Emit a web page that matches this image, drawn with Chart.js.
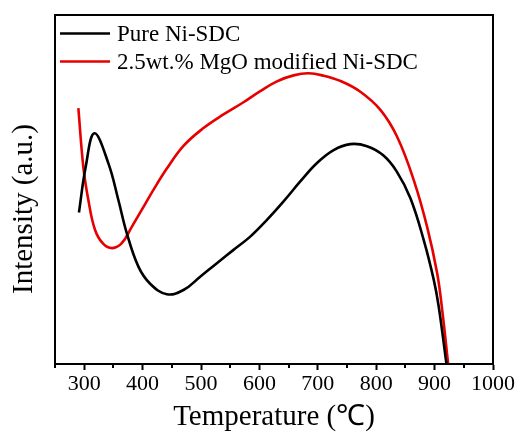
<!DOCTYPE html>
<html>
<head>
<meta charset="utf-8">
<script src="https://cdn.jsdelivr.net/npm/chart.js@4/dist/chart.umd.min.js"></script>
<style>
  html, body { margin: 0; padding: 0; background: #ffffff; }
  #c { display: block; }
</style>
</head>
<body>
<canvas id="c" width="518" height="433"></canvas>
<script>
// ---- data ----
const seriesNames = ['Pure Ni-SDC', '2.5wt.% MgO modified Ni-SDC'];
const seriesColors = ['#000000', '#e60000'];

const pureT = [291, 302.6, 317.4, 341.4, 358.5, 372.9, 392.8, 412.9, 441.5, 470, 498.6, 527.2, 555.7, 584.3, 612.9, 641.4, 670, 698.6, 727.1, 755.7, 784.3, 812, 835, 858.6, 881.4, 898.6, 907.1, 920.3];
const pureI = [43.4, 56.5, 66.1, 57.5, 47.0, 37.5, 27.9, 23.0, 20.0, 21.2, 25.0, 28.9, 32.7, 36.5, 41.3, 46.6, 52.3, 57.6, 61.3, 63.0, 62.4, 59.8, 55.2, 47.5, 35.5, 24.1, 16.4, 0];

const mgoT = [290, 298.5, 307.1, 318.6, 332.8, 348.2, 364.3, 381.5, 404.3, 418.5, 441.5, 470, 504.2, 538.5, 572.8, 601.5, 630.1, 658.5, 684, 710, 740, 772.9, 807.2, 835.8, 864.3, 887.2, 904.4, 913.0, 923.2];
const mgoI = [73.3, 56.5, 47.0, 38.4, 34.4, 33.2, 34.6, 39.3, 45.8, 49.9, 56.0, 62.5, 67.6, 71.5, 75.0, 78.2, 81.0, 82.7, 83.3, 82.6, 81.0, 78.0, 72.8, 65.1, 52.7, 39.3, 26.0, 15.5, 0];

const majorTicks = [300, 400, 500, 600, 700, 800, 900, 1000];
const minorTicks = [250, 350, 450, 550, 650, 750, 850, 950];
const xMin = 250, xMax = 1000;
const yMin = 0, yMax = 100;
const xTitle = 'Temperature (\u2103)';
const yTitle = 'Intensity (a.u.)';

const FONT = 'Liberation Serif, Times New Roman, serif';
Chart.defaults.font.family = FONT;
Chart.defaults.color = '#000000';

function pts(xs, ys) { return xs.map((x, i) => ({ x: x, y: ys[i] })); }

const framePlugin = {
  id: 'frame',
  beforeDraw(chart) {
    const ctx = chart.ctx;
    ctx.save();
    ctx.fillStyle = '#ffffff';
    ctx.fillRect(0, 0, chart.width, chart.height);
    ctx.restore();
  },
  afterDraw(chart) {
    const ctx = chart.ctx;
    const a = chart.chartArea;
    const xs = chart.scales.x;
    ctx.save();
    // box
    ctx.strokeStyle = '#000000';
    ctx.lineWidth = 2;
    ctx.strokeRect(a.left, a.top, a.right - a.left, a.bottom - a.top);
    // minor ticks
    ctx.lineWidth = 2;
    minorTicks.forEach(v => {
      const px = Math.round(xs.getPixelForValue(v));
      ctx.beginPath();
      ctx.moveTo(px, a.bottom);
      ctx.lineTo(px, a.bottom + 4);
      ctx.stroke();
    });
    // legend
    ctx.font = '23px ' + FONT;
    ctx.textBaseline = 'middle';
    ctx.textAlign = 'left';
    const legY = [33.5, 61.5];
    seriesNames.forEach((name, i) => {
      ctx.strokeStyle = seriesColors[i];
      ctx.lineWidth = 2.5;
      ctx.beginPath();
      ctx.moveTo(a.left + 5, legY[i]);
      ctx.lineTo(a.left + 55, legY[i]);
      ctx.stroke();
      ctx.fillStyle = '#000000';
      ctx.fillText(name, a.left + 62, legY[i] + 1);
    });
    // y title
    ctx.font = '29px ' + FONT;
    ctx.translate(24, 209);
    ctx.rotate(-Math.PI / 2);
    ctx.textAlign = 'center';
    ctx.textBaseline = 'middle';
    ctx.fillStyle = '#000000';
    ctx.fillText(yTitle, 0, 0);
    ctx.restore();
  }
};

new Chart(document.getElementById('c'), {
  type: 'line',
  data: {
    datasets: [
      {
        label: seriesNames[0],
        data: pts(pureT, pureI),
        borderColor: seriesColors[0],
        borderWidth: 2.6,
        pointRadius: 0,
        fill: false,
        tension: 0.4
      },
      {
        label: seriesNames[1],
        data: pts(mgoT, mgoI),
        borderColor: seriesColors[1],
        borderWidth: 2.6,
        pointRadius: 0,
        fill: false,
        tension: 0.4
      }
    ]
  },
  options: {
    responsive: false,
    animation: false,
    events: [],
    layout: { padding: { top: 15, right: 25, left: 0, bottom: 0 } },
    plugins: {
      legend: { display: false },
      tooltip: { enabled: false }
    },
    scales: {
      x: {
        type: 'linear',
        min: xMin,
        max: xMax,
        afterBuildTicks: (s) => { s.ticks = majorTicks.map(v => ({ value: v })); },
        afterFit: (s) => { s.height = 69; },
        ticks: {
          font: { size: 22, family: FONT },
          color: '#000000',
          padding: 1,
          maxRotation: 0,
          autoSkip: false,
          callback: (v) => String(v)
        },
        grid: {
          drawOnChartArea: false,
          drawTicks: true,
          tickLength: 6,
          tickWidth: 2,
          tickColor: '#000000'
        },
        border: { display: true, color: '#000000', width: 2 },
        title: {
          display: true,
          text: xTitle,
          font: { size: 29, family: FONT, lineHeight: 1 },
          color: '#000000',
          padding: { top: 0, bottom: 1 }
        }
      },
      y: {
        type: 'linear',
        min: yMin,
        max: yMax,
        afterFit: (s) => { s.width = 55; },
        ticks: { display: false },
        grid: { display: false, drawTicks: false },
        border: { display: true, color: '#000000', width: 2 },
        title: { display: false }
      }
    }
  },
  plugins: [framePlugin]
});
</script>
</body>
</html>
